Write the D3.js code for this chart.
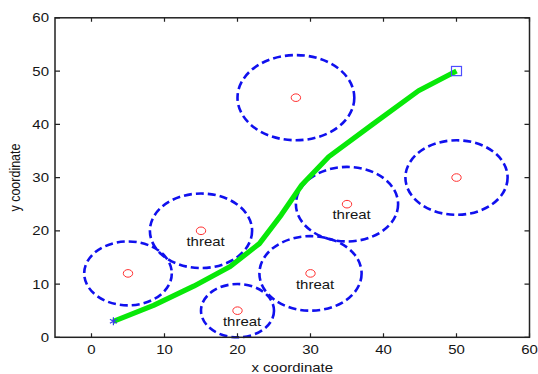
<!DOCTYPE html>
<html>
<head>
<meta charset="utf-8">
<script src="https://cdn.jsdelivr.net/npm/d3@7"></script>
<style>
  body { margin: 0; background: #fff; }
  text { font-family: "Liberation Sans", Arial, sans-serif; fill: #151515; }
</style>
</head>
<body>
<div id="app"></div>
<script>
const w = 538;
const h = 374;

// threats: centre and radius (data units)
const threatX = [5, 15, 20, 30, 35, 28, 50];
const threatY = [12, 20, 5, 12, 25, 45, 30];
const threatR = [6, 7, 5, 7, 7, 8, 7];
const threatLabel = [false, true, true, true, true, false, false];

// planned path
const pathX = [3, 8.5, 14, 19, 23, 26, 28.8, 32.5, 38.5, 44.8, 50];
const pathY = [3, 6, 9.6, 13.3, 17.6, 23, 28.6, 33.9, 40, 46.3, 50];

const xTicks = [0, 10, 20, 30, 40, 50, 60];
const yTicks = [0, 10, 20, 30, 40, 50, 60];

const sx = 1.2; // picture is stretched sideways

const svg = d3.select('#app')
  .append('svg')
  .attr('width', w)
  .attr('height', h);

const x = d3.scaleLinear().domain([-5, 60]).range([55, 529.5]);
const y = d3.scaleLinear().domain([0, 60]).range([337.3, 17.8]);

//////////THREAT CIRCLES//////////

const threats = threatX.map((d, i) => ({ x: d, y: threatY[i], r: threatR[i], label: threatLabel[i] }));

svg.append('g')
  .selectAll('ellipse')
  .data(threats)
  .join('ellipse')
  .attr('cx', d => x(d.x))
  .attr('cy', d => y(d.y))
  .attr('rx', d => x(d.r) - x(0))
  .attr('ry', d => y(0) - y(d.r))
  .attr('fill', 'none')
  .attr('stroke', '#1010ee')
  .attr('stroke-width', 2.6)
  .attr('stroke-dasharray', '8,4');

svg.append('g')
  .selectAll('ellipse')
  .data(threats)
  .join('ellipse')
  .attr('cx', d => x(d.x))
  .attr('cy', d => y(d.y))
  .attr('rx', 4.7)
  .attr('ry', 3.8)
  .attr('fill', 'none')
  .attr('stroke', '#ff3030')
  .attr('stroke-width', 1);

svg.append('g')
  .selectAll('text')
  .data(threats.filter(d => d.label))
  .join('text')
  .attr('transform', d => `translate(${x(d.x - 2)},${y(d.y - 2) + 4.5}) scale(${sx},1)`)
  .attr('font-size', 12.5)
  .text('threat');

//////////PATH//////////

const line = d3.line()
  .x((d, i) => x(pathX[i]))
  .y((d, i) => y(pathY[i]));

svg.append('path')
  .datum(pathX)
  .attr('d', line)
  .attr('fill', 'none')
  .attr('stroke', '#08e808')
  .attr('stroke-width', 5.2)
  .attr('stroke-linejoin', 'round');

svg.append('path')
  .attr('transform', `translate(${x(pathX[0])},${y(pathY[0])})`)
  .attr('d', d3.symbol(d3.symbolAsterisk, 45))
  .attr('fill', 'none')
  .attr('stroke', '#3a3aee')
  .attr('stroke-width', 1.2);

const last = pathX.length - 1;
svg.append('rect')
  .attr('x', x(pathX[last]) - 5)
  .attr('y', y(pathY[last]) - 4.6)
  .attr('width', 10)
  .attr('height', 9.2)
  .attr('fill', 'none')
  .attr('stroke', '#4d4dff')
  .attr('stroke-width', 1.2);

//////////AXES//////////

const frame = svg.append('g');

frame.append('rect')
  .attr('x', x(-5))
  .attr('y', y(60))
  .attr('width', x(60) - x(-5))
  .attr('height', y(0) - y(60))
  .attr('fill', 'none')
  .attr('stroke', '#222')
  .attr('stroke-width', 1.5);

frame.selectAll('.xt')
  .data(xTicks)
  .join('path')
  .attr('class', 'xt')
  .attr('d', d => `M${x(d)},${y(0)}v-4M${x(d)},${y(60)}v4`)
  .attr('stroke', '#222')
  .attr('stroke-width', 1.2);

frame.selectAll('.yt')
  .data(yTicks)
  .join('path')
  .attr('class', 'yt')
  .attr('d', d => `M${x(-5)},${y(d)}h5M${x(60)},${y(d)}h-5`)
  .attr('stroke', '#222')
  .attr('stroke-width', 1.2);

frame.selectAll('.xl')
  .data(xTicks)
  .join('text')
  .attr('class', 'xl')
  .attr('transform', d => `translate(${x(d)},354) scale(${sx},1)`)
  .attr('text-anchor', 'middle')
  .attr('font-size', 12.5)
  .text(d => d);

frame.selectAll('.yl')
  .data(yTicks)
  .join('text')
  .attr('class', 'yl')
  .attr('transform', d => `translate(49,${y(d) + 4.5}) scale(${sx},1)`)
  .attr('text-anchor', 'end')
  .attr('font-size', 12.5)
  .text(d => d);

svg.append('text')
  .attr('transform', `translate(${(x(-5) + x(60)) / 2},372) scale(${sx},1)`)
  .attr('text-anchor', 'middle')
  .attr('font-size', 12.5)
  .text('x coordinate');

svg.append('text')
  .attr('transform', `translate(19.5,${(y(0) + y(60)) / 2}) scale(${sx},1) rotate(-90)`)
  .attr('text-anchor', 'middle')
  .attr('font-size', 12.5)
  .text('y coordinate');
</script>
</body>
</html>
